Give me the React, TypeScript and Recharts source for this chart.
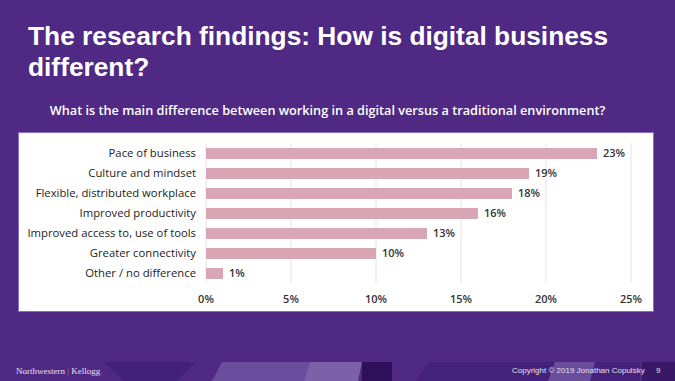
import { Bar, BarChart, CartesianGrid, LabelList, XAxis, YAxis } from 'recharts';

const categories = [
    'Pace of business',
    'Culture and mindset',
    'Flexible, distributed workplace',
    'Improved productivity',
    'Improved access to, use of tools',
    'Greater connectivity',
    'Other / no difference',
];
const shares = [23, 19, 18, 16, 13, 10, 1];
const xTicks = [0, 5, 10, 15, 20, 25];

const data = categories.map((name, i) => ({ name, value: shares[i] }));

const labelFont = '"Open Sans", "Noto Sans", sans-serif';

// plain single-line tick so long names don't wrap
function CategoryTick(props: any) {
    const { x, y, payload } = props;
    return (
        <text
            x={x}
            y={y}
            dy="0.35em"
            textAnchor="end"
            fill="#222"
            fontSize={11.3}
            fontWeight={500}
            fontFamily={labelFont}
        >
            {payload.value}
        </text>
    );
}

export default function App() {
    return (
        <div
            style={{
                position: 'fixed',
                left: 0,
                top: 0,
                width: 675,
                height: 381,
                background: '#4f2984',
                overflow: 'hidden',
                fontFamily: labelFont,
            }}
        >
            {/* footer decoration */}
            <svg width={675} height={381} style={{ position: 'absolute', left: 0, top: 0 }}>
                <polygon points="104,362 196,362 176,381 124,381" fill="#43207a" />
                <polygon points="222,362 310,362 304,381 212,381" fill="#6a4d9c" />
                <polygon points="310,362 362,362 358,381 304,381" fill="#7b62a8" />
                <rect x={362} y={362} width={30} height={19} fill="#2f0f5a" />
                <polygon points="430,362 640,362 640,381 415,381" fill="#44217a" />
                <polygon points="555,362 595,362 590,381 548,381" fill="#6a4d9c" />
                <rect x={642} y={362} width={33} height={19} fill="#3a1868" />
            </svg>

            <div
                style={{
                    position: 'absolute',
                    left: 28,
                    top: 21,
                    width: 645,
                    color: '#fff',
                    fontFamily: '"Liberation Sans", Arial, sans-serif',
                    fontWeight: 700,
                    fontSize: 26.3,
                    lineHeight: '31px',
                }}
            >
                The research findings: How is digital business
                <br />
                different?
            </div>

            <div
                style={{
                    position: 'absolute',
                    left: 0,
                    width: 655,
                    top: 101,
                    textAlign: 'center',
                    color: '#fff',
                    fontWeight: 600,
                    fontSize: 12.7,
                    whiteSpace: 'nowrap',
                }}
            >
                What is the main difference between working in a digital versus a traditional environment?
            </div>

            <div
                style={{
                    position: 'absolute',
                    left: 19,
                    top: 133,
                    width: 634,
                    height: 178,
                    background: '#fff',
                    boxShadow: '0 0 0 1px #8a6fc0',
                }}
            >
                <BarChart
                    width={634}
                    height={178}
                    data={data}
                    layout="vertical"
                    margin={{ top: 10, right: 22, left: 0, bottom: 0 }}
                    barSize={11}
                >
                    <CartesianGrid horizontal={false} stroke="#e4e4e4" />
                    <XAxis
                        type="number"
                        domain={[0, 25]}
                        ticks={xTicks}
                        tickFormatter={(v) => `${v}%`}
                        axisLine={false}
                        tickLine={false}
                        tickMargin={6}
                        height={28}
                        interval={0}
                        tick={{ fill: '#333', fontSize: 11, fontFamily: labelFont, fontWeight: 600 }}
                    />
                    <YAxis
                        type="category"
                        dataKey="name"
                        width={187}
                        axisLine={false}
                        tickLine={false}
                        tickMargin={4}
                        interval={0}
                        tick={<CategoryTick />}
                    />
                    <Bar dataKey="value" fill="#d8a6b4" isAnimationActive={false}>
                        <LabelList
                            dataKey="value"
                            position="right"
                            offset={6}
                            formatter={(v) => `${v}%`}
                            style={{ fill: '#333', fontSize: 11, fontFamily: labelFont, fontWeight: 600 }}
                        />
                    </Bar>
                </BarChart>
            </div>

            <div
                style={{
                    position: 'absolute',
                    left: 16,
                    top: 366,
                    color: '#e6e0f0',
                    fontFamily: '"Liberation Serif", "DejaVu Serif", serif',
                    fontSize: 9,
                }}
            >
                Northwestern <span style={{ opacity: 0.4 }}>|</span> Kellogg
            </div>
            <div
                style={{
                    position: 'absolute',
                    left: 512,
                    top: 366,
                    color: '#e6e0f0',
                    fontFamily: '"Liberation Sans", Arial, sans-serif',
                    fontSize: 8,
                }}
            >
                Copyright © 2019 Jonathan Copulsky
            </div>
            <div
                style={{
                    position: 'absolute',
                    left: 656,
                    top: 366,
                    color: '#e6e0f0',
                    fontFamily: '"Liberation Sans", Arial, sans-serif',
                    fontSize: 8,
                }}
            >
                9
            </div>
        </div>
    );
}
